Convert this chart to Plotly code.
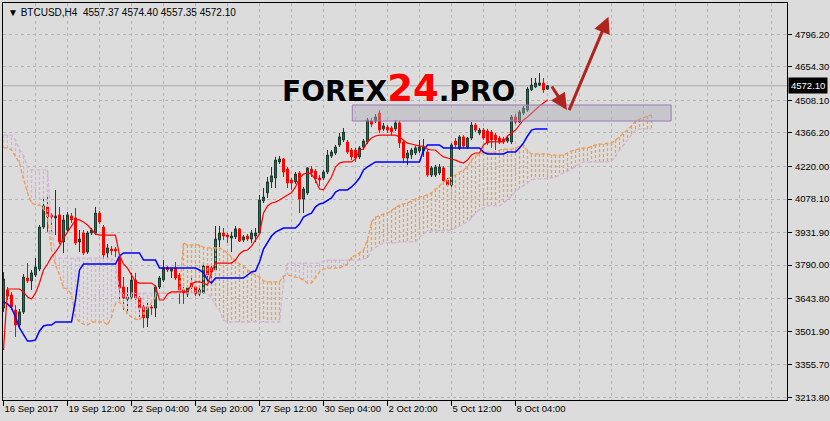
import plotly.graph_objects as go

symbol = "BTCUSD,H4"

bar_open = [3603, 3682, 3660, 3594, 3529, 3586, 3734, 3721, 3747, 3773,
            3956, 4044, 4009, 3996, 4009, 3891, 3943, 4004, 3996, 3891,
            3930, 3847, 3930, 3930, 4017, 3956, 3843, 3860, 3860, 3821,
            3695, 3642, 3651, 3725, 3647, 3608, 3560, 3608, 3603, 3695,
            3725, 3778, 3764, 3778, 3747, 3682, 3664, 3712, 3695, 3664,
            3669, 3786, 3778, 3769, 3900, 3930, 3921, 3908, 3913, 3948,
            3900, 3917, 3904, 3917, 3930, 4070, 4105, 4153, 4170, 4240,
            4253, 4209, 4161, 4153, 4192, 4078, 4105, 4209, 4200, 4170,
            4170, 4196, 4266, 4279, 4314, 4336, 4327, 4292, 4292, 4262,
            4305, 4327, 4418, 4418, 4453, 4384, 4392, 4388, 4384, 4410,
            4327, 4257, 4270, 4279, 4288, 4288, 4283, 4183, 4183, 4192,
            4214, 4161, 4139, 4331, 4301, 4349, 4305, 4344, 4401, 4366,
            4379, 4375, 4370, 4357, 4344, 4340, 4331, 4327, 4436, 4414,
            4453, 4466, 4554, 4567, 4575, 4584, 4557.37]
bar_high = [3760, 3695, 3673, 3616, 3599, 3751, 3799, 3769, 3821, 3965,
            4083, 4091, 4017, 4118, 4044, 4009, 4022, 4017, 4039, 3943,
            3943, 3939, 3952, 4044, 4026, 3965, 3882, 3873, 3869, 3830,
            3738, 3695, 3756, 3756, 3655, 3625, 3625, 3616, 3703, 3743,
            3812, 3786, 3778, 3804, 3756, 3695, 3703, 3738, 3703, 3690,
            3804, 3799, 3791, 3961, 3961, 3952, 3930, 3935, 3961, 3952,
            3921, 3926, 3943, 3952, 4096, 4126, 4174, 4218, 4262, 4266,
            4257, 4218, 4170, 4196, 4200, 4131, 4218, 4222, 4209, 4183,
            4205, 4292, 4292, 4314, 4366, 4388, 4336, 4301, 4301, 4309,
            4340, 4432, 4432, 4449, 4466, 4410, 4401, 4397, 4423, 4418,
            4336, 4292, 4301, 4309, 4336, 4340, 4292, 4222, 4227, 4231,
            4222, 4170, 4322, 4344, 4357, 4357, 4349, 4414, 4410, 4388,
            4388, 4384, 4379, 4366, 4353, 4349, 4353, 4445, 4449, 4466,
            4484, 4567, 4606, 4606, 4628, 4606, 4574.40]
bar_low = [3586, 3638, 3594, 3477, 3516, 3577, 3712, 3682, 3738, 3764,
           3948, 3935, 3935, 3921, 3882, 3843, 3935, 3974, 3878, 3847,
           3834, 3839, 3921, 3921, 3969, 3804, 3812, 3834, 3825, 3638,
           3594, 3581, 3642, 3638, 3560, 3516, 3520, 3573, 3564, 3686,
           3717, 3760, 3734, 3725, 3621, 3621, 3651, 3686, 3655, 3655,
           3664, 3717, 3717, 3764, 3869, 3900, 3887, 3847, 3904, 3891,
           3891, 3895, 3887, 3891, 3926, 4061, 4083, 4126, 4126, 4231,
           4174, 4126, 4118, 4144, 4017, 4017, 4096, 4174, 4148, 4135,
           4161, 4187, 4257, 4270, 4305, 4327, 4275, 4248, 4240, 4253,
           4292, 4318, 4392, 4410, 4366, 4375, 4366, 4357, 4375, 4301,
           4235, 4226, 4253, 4270, 4279, 4262, 4174, 4174, 4174, 4183,
           4148, 4131, 4131, 4301, 4292, 4301, 4296, 4336, 4370, 4357,
           4336, 4314, 4301, 4292, 4318, 4318, 4323, 4318, 4405, 4410,
           4445, 4458, 4549, 4562, 4571, 4541, 4557.35]
bar_close = [3730, 3655, 3608, 3529, 3586, 3738, 3721, 3756, 3782, 3956,
             4048, 4000, 4000, 4004, 3891, 3987, 4009, 3987, 3887, 3904,
             3843, 3930, 3943, 4017, 3978, 3834, 3865, 3852, 3852, 3690,
             3647, 3651, 3725, 3647, 3603, 3560, 3608, 3603, 3695, 3734,
             3778, 3769, 3773, 3734, 3682, 3669, 3690, 3695, 3664, 3682,
             3786, 3747, 3760, 3904, 3930, 3917, 3913, 3917, 3948, 3895,
             3913, 3904, 3930, 3930, 4074, 4087, 4153, 4179, 4248, 4253,
             4196, 4148, 4148, 4187, 4078, 4122, 4214, 4192, 4166, 4161,
             4196, 4270, 4283, 4305, 4349, 4370, 4283, 4262, 4257, 4301,
             4331, 4423, 4405, 4436, 4379, 4397, 4379, 4371, 4410, 4323,
             4257, 4279, 4292, 4301, 4305, 4305, 4183, 4214, 4218, 4218,
             4157, 4139, 4314, 4314, 4349, 4309, 4344, 4401, 4379, 4379,
             4344, 4323, 4336, 4336, 4327, 4327, 4344, 4436, 4414, 4458,
             4475, 4558, 4575, 4584, 4584, 4554, 4572.10]

tenkan = [3420, 3686, 3686, 3686, 3686, 3673, 3651, 3642, 3668, 3712,
          3769, 3795, 3826, 3847, 3873, 3908, 3934, 3965, 3987, 3987,
          3978, 3965, 3943, 3926, 3921, 3921, 3921, 3921, 3921, 3834,
          3795, 3777, 3747, 3717, 3712, 3712, 3712, 3712, 3699, 3638,
          3638, 3664, 3673, 3673, 3673, 3673, 3673, 3708, 3717, 3717,
          3712, 3703, 3760, 3799, 3799, 3799, 3799, 3799, 3812, 3839,
          3852, 3856, 3873, 3900, 3926, 4017, 4048, 4061, 4065, 4074,
          4087, 4096, 4105, 4131, 4170, 4187, 4192, 4187, 4161, 4122,
          4118, 4148, 4174, 4218, 4235, 4240, 4240, 4240, 4253, 4292,
          4296, 4327, 4344, 4353, 4357, 4357, 4357, 4357, 4357, 4349,
          4336, 4322, 4318, 4314, 4309, 4309, 4296, 4292, 4292, 4275,
          4262, 4257, 4253, 4248, 4240, 4235, 4248, 4270, 4279, 4279,
          4314, 4327, 4327, 4327, 4327, 4327, 4353, 4366, 4379, 4401,
          4423, 4436, 4453, 4466, 4484, 4497, 4510]
kijun = [3631, 3621, 3603, 3564, 3516, 3485, 3459, 3459, 3464, 3503,
         3525, 3529, 3529, 3542, 3542, 3542, 3542, 3542, 3638, 3769,
         3795, 3795, 3795, 3795, 3795, 3795, 3795, 3795, 3795, 3830,
         3843, 3843, 3843, 3843, 3843, 3812, 3812, 3812, 3812, 3777,
         3777, 3777, 3777, 3777, 3777, 3777, 3777, 3777, 3777, 3769,
         3756, 3725, 3712, 3734, 3734, 3734, 3734, 3734, 3734, 3734,
         3734, 3747, 3760, 3764, 3804, 3860, 3891, 3917, 3934, 3943,
         3952, 3952, 3952, 3952, 3969, 4000, 4009, 4017, 4044, 4057,
         4061, 4074, 4083, 4109, 4118, 4118, 4118, 4131, 4148, 4170,
         4205, 4218, 4231, 4240, 4240, 4240, 4240, 4240, 4240, 4240,
         4240, 4240, 4240, 4240, 4240, 4292, 4314, 4314, 4314, 4314,
         4301, 4301, 4301, 4301, 4301, 4301, 4301, 4301, 4301, 4301,
         4283, 4275, 4275, 4275, 4275, 4275, 4283, 4283, 4283, 4301,
         4323, 4353, 4379, 4384, 4384, 4384, 4384]
span_a = [4301, 4301, 4292, 4266, 4235, 4166, 4105, 4061, 4052, 4052,
          4035, 4000, 3856, 3791, 3747, 3690, 3686, 3660, 3564, 3542,
          3533, 3529, 3542, 3542, 3542, 3542, 3529, 3564, 3621, 3629,
          3607, 3577, 3564, 3555, 3551, 3573, 3603, 3629, 3651, 3668,
          3668, 3668, 3668, 3668, 3682, 3887, 3878, 3878, 3878, 3878,
          3869, 3865, 3865, 3865, 3865, 3856, 3843, 3825, 3808, 3795,
          3786, 3769, 3756, 3747, 3738, 3721, 3717, 3717, 3717, 3717,
          3743, 3747, 3743, 3738, 3734, 3725, 3712, 3712, 3734, 3760,
          3773, 3777, 3777, 3777, 3777, 3786, 3795, 3825, 3834, 3843,
          3856, 3900, 3978, 4000, 4004, 4013, 4017, 4030, 4043, 4052,
          4057, 4061, 4070, 4078, 4087, 4091, 4096, 4105, 4122, 4139,
          4152, 4166, 4174, 4183, 4196, 4205, 4218, 4248, 4266, 4275,
          4279, 4283, 4283, 4283, 4292, 4296, 4296, 4296, 4301, 4309,
          4314, 4288, 4275, 4275, 4275, 4275, 4275, 4270, 4270, 4270,
          4270, 4279, 4288, 4292, 4296, 4301, 4301, 4309, 4314, 4318,
          4318, 4322, 4322, 4336, 4349, 4362, 4379, 4397, 4418, 4427,
          4432, 4440, 4445]
span_b = [4357, 4357, 4357, 4336, 4292, 4270, 4218, 4205, 4205, 4205,
          4205, 4205, 3965, 3821, 3821, 3821, 3821, 3821, 3821, 3821,
          3821, 3821, 3821, 3821, 3821, 3821, 3821, 3821, 3804, 3668,
          3668, 3668, 3668, 3668, 3668, 3668, 3668, 3668, 3668, 3668,
          3668, 3668, 3668, 3668, 3668, 3668, 3668, 3668, 3668, 3668,
          3668, 3668, 3647, 3616, 3594, 3551, 3542, 3542, 3542, 3542,
          3542, 3542, 3542, 3542, 3542, 3542, 3542, 3542, 3542, 3542,
          3712, 3799, 3799, 3799, 3799, 3799, 3799, 3799, 3799, 3799,
          3808, 3812, 3812, 3812, 3812, 3812, 3812, 3812, 3812, 3812,
          3817, 3821, 3856, 3869, 3878, 3887, 3887, 3887, 3887, 3891,
          3891, 3891, 3891, 3891, 3913, 3926, 3939, 3939, 3939, 3939,
          3939, 3939, 3943, 3952, 3961, 3969, 3978, 3996, 4017, 4030,
          4039, 4048, 4048, 4048, 4048, 4061, 4074, 4091, 4113, 4126,
          4139, 4152, 4161, 4166, 4166, 4166, 4170, 4170, 4174, 4183,
          4192, 4200, 4209, 4222, 4231, 4240, 4240, 4240, 4240, 4240,
          4240, 4240, 4244, 4262, 4292, 4314, 4336, 4357, 4379, 4384,
          4384, 4384, 4384]

x_tick_bars = [0, 16, 32, 48, 64, 80, 96, 112, 128]
x_tick_text = ["16 Sep 2017", "19 Sep 12:00", "22 Sep 04:00", "24 Sep 20:00",
               "27 Sep 12:00", "30 Sep 04:00", "2 Oct 20:00", "5 Oct 12:00",
               "8 Oct 04:00"]
y_tick_vals = [4796.20, 4654.30, 4508.10, 4366.20, 4220.00, 4078.10,
               3931.90, 3790.00, 3643.80, 3501.90, 3355.70, 3213.80]

BG = "#DCDCDC"
GRID = "#B4B4B4"
SANDY = "#F4A460"
THISTLE = "#D8BFD8"
TXT = dict(family="Liberation Sans Narrow, Liberation Sans, Arial, sans-serif",
           size=9.5, color="black")

bars = list(range(len(bar_open)))
cloud_bars = list(range(len(span_a)))

# vertical hatching of the Kumo cloud, one dotted stroke per bar
hx_a, hy_a, hx_b, hy_b = [], [], [], []
for i, (a, b) in enumerate(zip(span_a, span_b)):
    if a >= b:
        hx_a += [i, i, None]
        hy_a += [a, b, None]
    else:
        hx_b += [i, i, None]
        hy_b += [a, b, None]

fig = go.Figure()
fig.add_trace(go.Scatter(x=hx_a, y=hy_a, mode="lines", hoverinfo="skip",
                         line=dict(color="#F09A52", width=1.3, dash="3px,2px")))
fig.add_trace(go.Scatter(x=hx_b, y=hy_b, mode="lines", hoverinfo="skip",
                         line=dict(color="#D4B2D4", width=1.3, dash="3px,2px")))
fig.add_trace(go.Scatter(x=cloud_bars, y=span_a, mode="lines", name="Senkou Span A",
                         line=dict(color="#F09A52", width=1.3, dash="4px,2px")))
fig.add_trace(go.Scatter(x=cloud_bars, y=span_b, mode="lines", name="Senkou Span B",
                         line=dict(color="#D4B2D4", width=1.3, dash="4px,2px")))
fig.add_trace(go.Scatter(x=bars, y=kijun, mode="lines", name="Kijun-sen",
                         line=dict(color="#0000FF", width=1.5)))
fig.add_trace(go.Scatter(x=bars, y=tenkan, mode="lines", name="Tenkan-sen",
                         line=dict(color="#FF0000", width=1.2)))
fig.add_trace(go.Candlestick(
    x=bars, open=bar_open, high=bar_high, low=bar_low, close=bar_close,
    increasing=dict(fillcolor="#2F6B57", line=dict(color="#173A2E", width=1)),
    decreasing=dict(fillcolor="#FF0000", line=dict(color="#FF0000", width=1)),
    whiskerwidth=0, name=symbol))

last = len(bar_close) - 1

# current price line
fig.add_shape(type="line", xref="paper", x0=0, x1=1, yref="y",
              y0=bar_close[last], y1=bar_close[last],
              line=dict(color="#A8A8A8", width=1), layer="below")

# support zone rectangle
fig.add_shape(type="rect", xref="x", yref="y", x0=87.2, x1=166.9,
              y0=4418.4, y1=4488.2,
              fillcolor="rgba(170,170,182,0.45)",
              line=dict(color="#9A78B8", width=1), layer="above")

# forecast arrows
ARROW = "#B0231E"
fig.add_annotation(x=140.85, y=4466.4, xref="x", yref="y", ax=-16, ay=-25,
                   showarrow=True, arrowhead=2, arrowsize=1.1, arrowwidth=3,
                   arrowcolor=ARROW, text="")
fig.add_annotation(x=151.25, y=4873.2, xref="x", yref="y", ax=-40, ay=95,
                   showarrow=True, arrowhead=2, arrowsize=1.1, arrowwidth=3,
                   arrowcolor=ARROW, text="")

# watermark
fig.add_annotation(xref="paper", yref="paper", x=0.505, y=0.785,
                   xanchor="center", yanchor="middle", showarrow=False,
                   text="FOREX<span style='font-size:37px;color:#FF0000'>24</span>.PRO",
                   font=dict(family="DejaVu Sans, Arial Black, sans-serif",
                             size=28, color="#000000", weight="bold",
                             shadow="0px 0px 2px #F0F0F0"))

# header
fig.add_annotation(xref="paper", yref="paper", x=0, y=1, xanchor="left",
                   yanchor="top", xshift=3, yshift=-2, showarrow=False,
                   text=(f"\u25bc {symbol}&nbsp;&nbsp;{bar_open[last]:.2f} "
                         f"{bar_high[last]:.2f} {bar_low[last]:.2f} {bar_close[last]:.2f}"),
                   font=dict(family=TXT["family"], size=10, color="black"))

# current price label on axis
fig.add_annotation(xref="paper", yref="y", x=1, y=bar_close[last],
                   xanchor="left", yanchor="middle", xshift=1, showarrow=False,
                   text=f"{bar_close[last]:.2f}", bgcolor="#000000",
                   font=dict(family=TXT["family"], size=9.5, color="#FFFFFF"),
                   borderpad=2)

fig.update_layout(
    width=830, height=421,
    margin=dict(l=3, r=43, t=3, b=21, autoexpand=False),
    paper_bgcolor=BG, plot_bgcolor=BG,
    showlegend=False, hovermode=False,
    xaxis=dict(range=[-0.125, 195.875], rangeslider=dict(visible=False),
               tickmode="array", tickvals=x_tick_bars, ticktext=x_tick_text,
               ticklabelposition="outside right", tickangle=0, automargin=False,
               ticks="outside", ticklen=5, tickcolor="black",
               showgrid=True, gridcolor=GRID, griddash="3px,3px", gridwidth=1,
               minor=dict(tickmode="linear", tick0=0, dtick=8, showgrid=True,
                          gridcolor=GRID, griddash="3px,3px", gridwidth=1, ticks=""),
               showline=True, linecolor="black", linewidth=1, mirror=True,
               zeroline=False, tickfont=TXT, fixedrange=True),
    yaxis=dict(range=[3202.0, 4932.9], side="right", automargin=False,
               tickmode="array", tickvals=y_tick_vals,
               ticktext=[f"{v:.2f}" for v in y_tick_vals],
               ticks="outside", ticklen=4, tickcolor="black",
               ticklabelstandoff=1,
               showgrid=True, gridcolor=GRID, griddash="3px,3px", gridwidth=1,
               showline=True, linecolor="black", linewidth=1, mirror=True,
               zeroline=False, tickfont=TXT, fixedrange=True),
)

fig.write_html("out.html", config={"displayModeBar": False},
               post_script="document.body.style.margin='0';document.body.style.overflow='hidden';")
